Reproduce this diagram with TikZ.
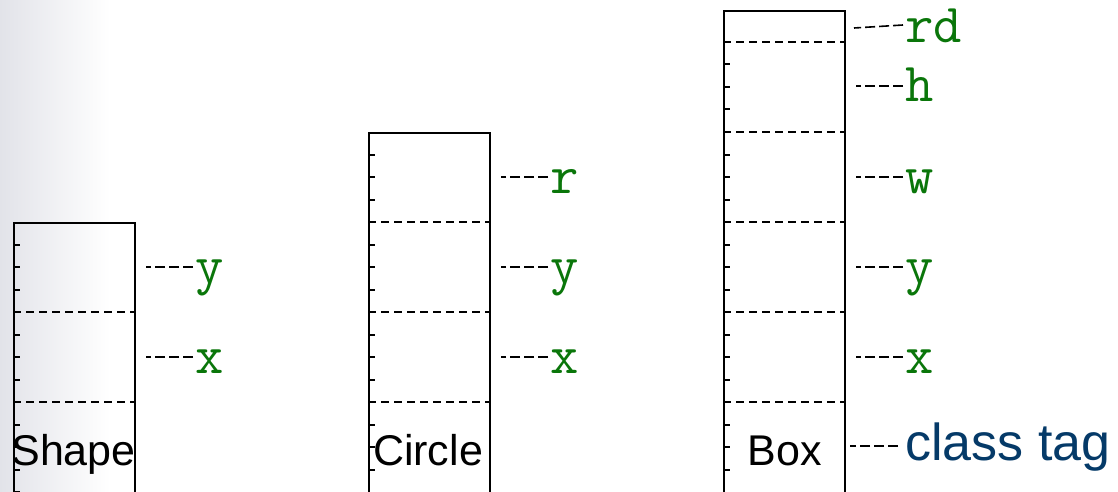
\documentclass[tikz,border=0pt]{standalone}
\usepackage{fontspec}
\newfontfamily\arialf{Liberation Sans}
\definecolor{fldgreen}{RGB}{10,118,10}
\definecolor{tagblue}{RGB}{5,58,104}
\definecolor{bgleft}{RGB}{226,227,233}
\tikzset{
  rec/.style={draw=black, line width=2pt, minimum width=121pt, inner sep=0pt, anchor=north west},
  tick/.style={line width=2pt},
  divider/.style={line width=1.8pt, dash pattern=on 8pt off 5pt},
  conn/.style={line width=1.6pt, dash pattern=on 10pt off 4pt},
  fld/.style={font=\ttfamily\fontsize{55}{55}\selectfont, text=fldgreen, inner sep=0pt, anchor=base west},
  cname/.style={font=\arialf\fontsize{43}{43}\selectfont, text=black, inner sep=0pt, anchor=base},
  tagtxt/.style={font=\arialf\fontsize{52}{52}\selectfont, text=tagblue, inner sep=0pt, anchor=base west},
}
\begin{document}
\begin{tikzpicture}[x=1pt,y=-1pt]
\useasboundingbox (0,0) rectangle (1118,492);
\clip (0,0) rectangle (1118,492);
\fill[left color=bgleft, right color=white] (0,0) rectangle (110,492);

% ---------- Shape ----------
\node[rec, minimum height=300pt] (shapeR) at (13,222) {};
\foreach \k in {1,2,3,5,6,7,9,10,11,12} {\draw[tick] (13,222+22.5*\k) -- ++(7,0);}
\foreach \yy in {312,402} {\draw[divider] (13,\yy) -- (134,\yy);}
\node[cname] (shapeN) at (73.5,465) {Shape};
\coordinate (sY) at (146,267); \coordinate (sX) at (146,357);
\node[fld] (shapeY) at (195,283) {y};
\node[fld] (shapeX) at (195,373) {x};
\draw[conn] (shapeY.west |- sY) ++(-2,0) -- (sY);
\draw[conn] (shapeX.west |- sX) ++(-2,0) -- (sX);

% ---------- Circle ----------
\node[rec, minimum height=400pt] (circR) at (368,132) {};
\foreach \k in {1,2,3,5,6,7,9,10,11,13,14,15} {\draw[tick] (368,132+22.5*\k) -- ++(7,0);}
\foreach \yy in {222,312,402} {\draw[divider] (368,\yy) -- (489,\yy);}
\node[cname] (circN) at (428,465) {Circle};
\coordinate (cR) at (501,177); \coordinate (cY) at (501,267); \coordinate (cX) at (501,357);
\node[fld] (circR2) at (550,193) {r};
\node[fld] (circY) at (550,283) {y};
\node[fld] (circX) at (550,373) {x};
\draw[conn] (circR2.west |- cR) ++(-2,0) -- (cR);
\draw[conn] (circY.west |- cY) ++(-2,0) -- (cY);
\draw[conn] (circX.west |- cX) ++(-2,0) -- (cX);

% ---------- Box ----------
\node[rec, minimum height=520pt] (boxR) at (723,10) {};
\foreach \k in {1,2,3,5,6,7,9,10,11,13,14,15,17,18,19} {\draw[tick] (723,42+22.5*\k) -- ++(7,0);}
\foreach \yy in {42,132,222,312,402} {\draw[divider] (723,\yy) -- (844,\yy);}
\node[cname] (boxN) at (785,465) {Box};
\coordinate (bRD) at (854,28); \coordinate (bH) at (856,86); \coordinate (bW) at (856,177);
\coordinate (bY) at (856,267); \coordinate (bX) at (856,357); \coordinate (bT) at (850,446);
\node[fld] (boxRD) at (905,43) {rd};
\node[fld] (boxH) at (905,102) {h};
\node[fld] (boxW) at (905,193) {w};
\node[fld] (boxY) at (905,283) {y};
\node[fld] (boxX) at (905,373) {x};
\node[tagtxt] (boxT) at (905,460) {class tag};
\draw[conn] (boxRD.west |- 0,25) ++(-2,0) -- (bRD);
\draw[conn] (boxH.west |- bH) ++(-2,0) -- (bH);
\draw[conn] (boxW.west |- bW) ++(-2,0) -- (bW);
\draw[conn] (boxY.west |- bY) ++(-2,0) -- (bY);
\draw[conn] (boxX.west |- bX) ++(-2,0) -- (bX);
\draw[conn] (boxT.west |- bT) ++(-7,0) -- (bT);
\end{tikzpicture}
\end{document}
